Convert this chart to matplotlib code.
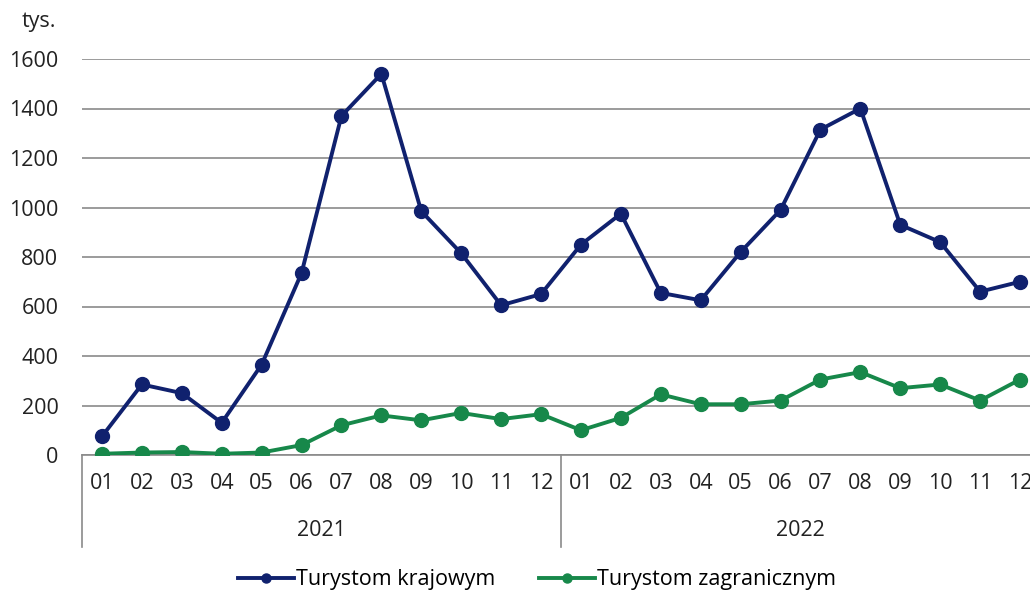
import matplotlib
matplotlib.use("Agg")
import matplotlib.pyplot as plt
import matplotlib.transforms as mtransforms
from matplotlib.lines import Line2D

# data (thousands of tourists)
years = ["2021", "2022"]
months = ["01", "02", "03", "04", "05", "06", "07", "08", "09", "10", "11", "12"]
krajowi = [75, 285, 250, 130, 365, 735, 1370, 1540, 985, 815, 605, 650,
           850, 975, 655, 625, 820, 990, 1315, 1400, 930, 860, 660, 700]
zagraniczni = [5, 10, 12, 5, 10, 40, 120, 160, 140, 170, 145, 165,
               100, 150, 245, 205, 205, 220, 305, 335, 270, 285, 220, 305]
y_ticks = [0, 200, 400, 600, 800, 1000, 1200, 1400, 1600]

BLUE = "#10216e"
GREEN = "#17884a"
GRID = "#8a8a8a"
TEXT = "#222222"
FS = 15.5

plt.rcParams["font.family"] = ["Open Sans", "DejaVu Sans"]

W, H = 1030, 593
fig = plt.figure(figsize=(W / 100, H / 100), dpi=100)
left, right, bottom, top = 82, 1040, 455, 59
ax = fig.add_axes([left / W, (H - bottom) / H, (right - left) / W, (bottom - top) / H])

x = list(range(len(krajowi)))
ax.plot(x, krajowi, color=BLUE, lw=2.8, marker="o", ms=10, label="Turystom krajowym", zorder=3)
ax.plot(x, zagraniczni, color=GREEN, lw=2.8, marker="o", ms=10, label="Turystom zagranicznym", zorder=3)

ax.set_xlim(-0.5, len(x) - 0.5)
ax.set_ylim(0, 1600)
ax.set_yticks(y_ticks)
ax.set_yticklabels([str(v) for v in y_ticks], fontsize=FS, color=TEXT)
ax.yaxis.grid(True, color=GRID, lw=1.2)
ax.set_axisbelow(True)
ax.tick_params(axis="y", length=0, pad=17)

ax.set_xticks(x)
ax.set_xticklabels(months * len(years), fontsize=FS, color=TEXT)
ax.tick_params(axis="x", length=0, pad=13)

for side in ["top", "right", "left"]:
    ax.spines[side].set_visible(False)
ax.spines["bottom"].set_color(GRID)
ax.spines["bottom"].set_linewidth(1.2)

# year groups below month labels
trans = mtransforms.blended_transform_factory(ax.transData, ax.transAxes)
depth = (547 - bottom) / (bottom - top)
for i, yr in enumerate(years):
    start = i * len(months) - 0.5
    ax.add_line(Line2D([start, start], [0, -depth], transform=trans,
                       color=GRID, lw=1.2, clip_on=False))
    ax.text(start + len(months) / 2, -(530 - bottom) / (bottom - top), yr,
            transform=trans, ha="center", va="center", fontsize=FS, color=TEXT)

fig.text(22 / W, 1 - 22 / H, "tys.", fontsize=FS, color=TEXT, va="center", ha="left")

fig.legend(loc="center", bbox_to_anchor=(537 / W, 1 - 580 / H), ncol=2, frameon=False,
           fontsize=FS, handlelength=2.6, handletextpad=0.1, columnspacing=2.0,
           markerscale=0.65)

fig.savefig("out.png", dpi=100)
